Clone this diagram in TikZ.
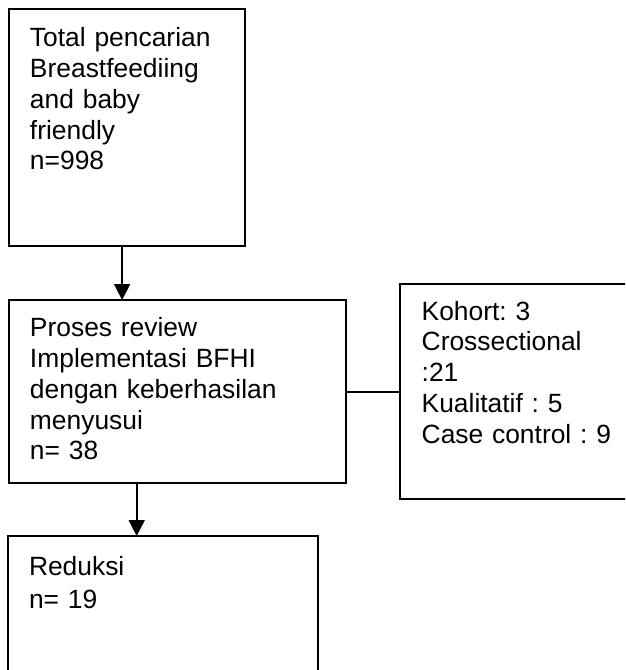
\documentclass[tikz,border=0pt]{standalone}
\usepackage{fontspec}
\setmainfont{Liberation Sans}
\usetikzlibrary{arrows.meta}
\frenchspacing
\begin{document}
\begin{tikzpicture}[x=1pt,y=-1pt,
  boxs/.style={draw, line width=2pt, inner sep=0pt, outer sep=0pt, anchor=north west},
  txt/.style={anchor=base west, inner sep=0pt, outer sep=0pt, align=left, text width=300pt, font=\fontsize{26.4}{30.8}\selectfont\frenchspacing},
  conn/.style={line width=2pt, -{Triangle[width=16pt,length=16pt]}},
  link/.style={line width=2pt}]
\clip (0,0) rectangle (625,670);
\node[boxs, minimum width=236pt, minimum height=236.6pt] (b1) at (8.8,9.4) {};
\node[boxs, minimum width=336.8pt, minimum height=183pt] (b2) at (8.8,300) {};
\node[boxs, minimum width=240pt, minimum height=215pt] (b3) at (400,284) {};
\node[boxs, minimum width=310pt, minimum height=160pt] (b4) at (8,536) {};
\node[txt] (t1) at (30,46.7) {Total pencarian\\Breastfeediing\\and baby\\friendly\\n=998};
\node[txt] (t2) at (30,336.7) {Proses review\\Implementasi BFHI\\dengan keberhasilan\\menyusui\\n= 38};
\node[txt] (t3) at (421.7,320) {Kohort: 3\\Crossectional\\:21\\Kualitatif : 5\\Case control : 9};
\node[txt, font=\fontsize{26.4}{33.3}\selectfont\frenchspacing] (t4) at (29,575) {Reduksi\\n= 19};
\draw[conn] ([xshift=-4.7pt]b1.south) -- ([xshift=-4.7pt]b1.south |- b2.north);
\draw[conn] ([xshift=-40.5pt]b2.south) -- ([xshift=-40.5pt]b2.south |- b4.north);
\draw[link] (b2.east) -- (b2.east -| b3.west);
\end{tikzpicture}
\end{document}
